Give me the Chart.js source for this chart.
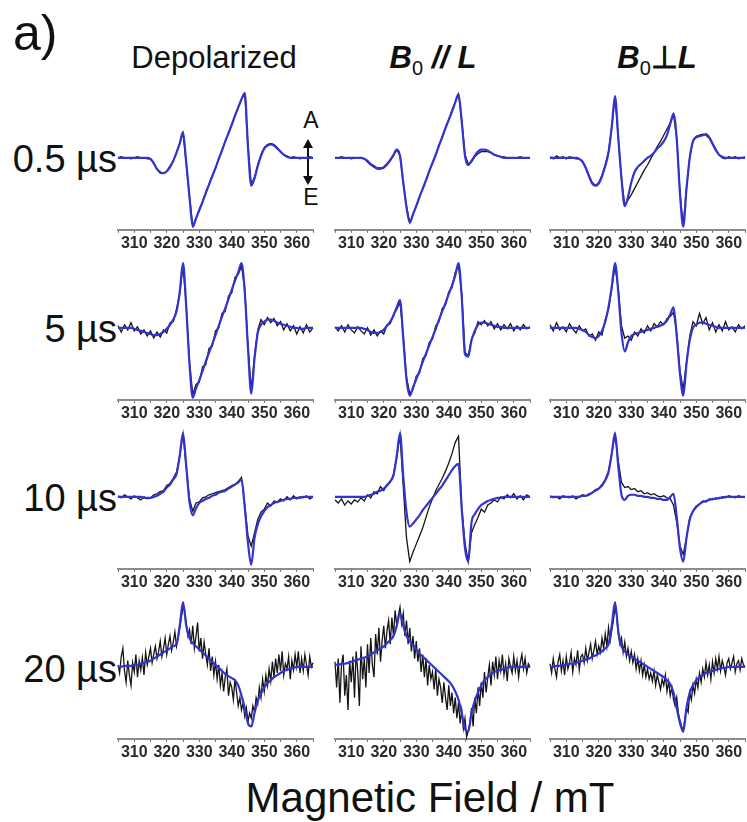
<!DOCTYPE html>
<html>
<head>
<meta charset="utf-8">
<script src="https://cdn.jsdelivr.net/npm/chart.js@4.4.1/dist/chart.umd.min.js"></script>
<style>
body{margin:0;background:#fff;}
#fig{position:relative;width:747px;height:822px;overflow:hidden;font-family:Arial,"Liberation Sans",Helvetica,sans-serif;color:#111;}
.txt{position:absolute;white-space:nowrap;line-height:1;}
.ctr{transform:translateX(-50%);}
canvas{position:absolute;}
</style>
</head>
<body>
<div id="fig">
  <div class="txt" style="left:13px;top:8px;font-size:50px">a)</div>
  <div class="txt ctr" style="left:214px;top:42px;font-size:31px">Depolarized</div>
  <div class="txt ctr" style="left:433px;top:42px;font-size:31px"><b><i>B</i></b><sub style="font-size:20px">0</sub><b><i> // L</i></b></div>
  <div class="txt ctr" style="left:657px;top:42px;font-size:31px"><b><i>B</i></b><sub style="font-size:20px">0</sub><b>&perp;<i>L</i></b></div>

  <div class="txt" style="right:630px;top:140px;font-size:38px">0.5 µs</div>
  <div class="txt" style="right:630px;top:310px;font-size:38px">5 µs</div>
  <div class="txt" style="right:630px;top:479px;font-size:38px">10 µs</div>
  <div class="txt" style="right:630px;top:650px;font-size:38px">20 µs</div>

  <div class="txt ctr" style="left:311px;top:109px;font-size:23px">A</div>
  <div class="txt ctr" style="left:311px;top:186px;font-size:23px">E</div>
  <svg style="position:absolute;left:300px;top:138px" width="16" height="48">
    <line x1="8" y1="8" x2="8" y2="40" stroke="#111" stroke-width="2"/>
    <polygon points="8,1 3,10 13,10" fill="#111"/>
    <polygon points="8,47 3,38 13,38" fill="#111"/>
  </svg>

  <div class="txt ctr" style="left:430px;top:777px;font-size:42px">Magnetic Field / mT</div>
</div>
<script>
// ===== Data (intensity in a.u., field in mT) =====
const field = [305,306,307,308,309,310,311,312,313,314,315,316,317,318,319,320,321,322,323,324,
  325,326,327,328,329,330,331,332,333,334,335,336,337,338,339,340,341,342,343,344,
  345,346,347,348,349,350,351,352,353,354,355,356,357,358,359,360,361,362,363,364,365];
// finer sweep used for the noisy 20 us traces
const fieldFine = [305,305.5,306,306.5,307,307.5,308,308.5,309,309.5,310,310.5,311,311.5,312,312.5,313,313.5,314,314.5,
  315,315.5,316,316.5,317,317.5,318,318.5,319,319.5,320,320.5,321,321.5,322,322.5,323,323.5,324,324.5,
  325,325.5,326,326.5,327,327.5,328,328.5,329,329.5,330,330.5,331,331.5,332,332.5,333,333.5,334,334.5,
  335,335.5,336,336.5,337,337.5,338,338.5,339,339.5,340,340.5,341,341.5,342,342.5,343,343.5,344,344.5,
  345,345.5,346,346.5,347,347.5,348,348.5,349,349.5,350,350.5,351,351.5,352,352.5,353,353.5,354,354.5,
  355,355.5,356,356.5,357,357.5,358,358.5,359,359.5,360,360.5,361,361.5,362,362.5,363,363.5,364,364.5,365];
const tickLabels = [310,320,330,340,350,360];

// 0.5 us
const simDep05 = [0,0,0,0,0,0,0,0,0,0, -1,-5,-11,-14,-15,-13,-9,-3,5,14, 25,-5,-38,-67,-59,-51,-43,-34,-26,-18,
  -10,-1,7,16,24,32,41,49,57,63, 10,-27,-20,-8,2,9,12,13,12,9, 6,3,1,0,0,0,0,0,0,0,0];
const expDep05 = [0,1,0,0,-1,0,1,0,0,-1, -1,-6,-11,-15,-15,-13,-8,-3,5,14, 24,-6,-38,-66,-59,-50,-43,-35,-26,-17,
  -10,-1,8,16,24,33,41,49,57,62, 12,-26,-19,-7,3,10,13,14,13,10, 6,3,2,0,1,0,-1,0,0,1,0];
const simPar05 = [0,0,0,0,0,0,0,0,0,-1, -3,-6,-8,-10,-10,-9,-6,-2,3,8, 2,-24,-48,-63,-55,-47,-38,-30,-22,-13,
  -5,3,12,20,29,37,45,54,62,35, 2,-7,-3,2,6,8,8,7,5,3, 2,1,0,0,0,0,0,0,0,0,0];
const expPar05 = [0,0,1,0,0,-1,0,0,0,-1, -4,-7,-9,-11,-11,-10,-7,-3,2,8, 2,-24,-47,-63,-55,-46,-38,-30,-21,-13,
  -5,3,12,21,29,37,46,54,62,37, 3,-6,-4,1,4,6,6,6,5,3, 2,1,1,0,0,0,0,1,0,0,0];
const simPerp05 = [0,0,0,0,0,0,0,0,0,-1, -4,-10,-18,-25,-27,-25,-18,-8,5,30, 60,20,-20,-47,-38,-24,-14,-9,-6,-3,
  0,2,5,9,12,16,22,33,43,18, -35,-67,-30,0,16,20,21,22,23,20, 14,8,3,1,0,0,0,0,0,0,0];
const expPerp05 = [1,-1,2,0,1,-1,1,0,-1,-1, -3,-9,-17,-24,-27,-24,-17,-7,6,30, 59,19,-21,-46,-41,-36,-30,-24,-18,-12,
  -7,-1,5,11,16,22,28,34,42,19, -34,-66,-29,1,17,21,22,23,22,19, 13,7,3,0,-1,1,0,1,-1,0,1];

// 5 us
const simDep5 = [0,0,0,0,0,-1,-2,-3,-4,-5, -6,-7,-7,-6,-4,-1,3,8,16,35, 63,20,-35,-68,-59,-51,-42,-33,-24,-16,
  -7,2,11,19,28,37,46,54,63,35, -20,-64,-30,-5,3,6,8,8,7,5, 4,3,2,1,0,0,-1,-1,0,0,0];
const expDep5 = [2,-4,3,-2,5,-3,1,-6,-2,-8, -3,-10,-4,-9,-2,-5,5,6,18,33, 60,22,-33,-65,-55,-53,-38,-36,-20,-18,
  -3,0,14,16,31,34,49,52,60,38, -18,-60,-28,-2,8,3,10,5,9,2, 6,-2,4,-3,2,-6,1,-5,3,-4,0];
const simPar5 = [0,0,0,0,0,0,0,0,0,-1, -2,-4,-5,-5,-4,-2,2,6,12,20, 27,-10,-50,-66,-58,-50,-42,-33,-25,-17,
  -9,-1,8,16,24,33,41,51,63,30, -26,-28,-12,-3,3,5,5,4,3,2, 1,1,0,0,0,0,0,0,0,0,0];
const expPar5 = [1,-3,2,-4,3,-2,-5,1,-3,-6, 0,-7,-2,-8,-3,-6,3,4,13,18, 25,-8,-48,-64,-60,-47,-44,-30,-27,-14,
  -11,2,6,19,22,35,39,54,60,33, -24,-27,-11,-5,6,3,7,2,6,-1, 4,-2,3,-1,4,-3,2,-2,3,-1,1];
const simPerp5 = [0,0,0,0,0,0,0,0,0,-1, -2,-4,-7,-9,-10,-8,-3,6,20,40, 63,35,-5,-23,-14,-8,-6,-5,-4,-3,
  -2,-1,0,1,2,4,7,13,20,-8, -45,-66,-35,-12,0,3,5,5,4,3, 2,1,0,0,0,0,0,0,0,0,0];
const expPerp5 = [3,-3,5,-2,1,-4,4,-1,-5,2, -3,-1,-8,-6,-12,-4,-7,8,18,38, 60,38,2,-10,-8,-12,-4,-8,-1,-5,
  2,-3,4,1,6,3,9,11,15,-5, -42,-60,-33,-8,6,2,14,4,10,-2, 5,-4,3,-3,6,-2,1,-4,3,-1,2];

// 10 us
const simDep10 = [0,0,0,0,0,0,0,0,-1,-1, -1,0,1,3,5,9,12,17,22,40, 62,30,-5,-18,-11,-6,-4,-2,-1,1,
  2,4,5,6,8,10,12,14,17,-10, -45,-66,-40,-27,-19,-14,-10,-8,-6,-5, -4,-3,-2,-2,-1,-1,-1,0,0,0,0];
const expDep10 = [1,-1,2,0,-2,1,-1,-3,0,-2, -1,2,3,5,6,11,13,18,24,40, 61,28,-2,-14,-6,-5,-1,0,2,3,
  4,5,6,7,9,11,12,15,19,-8, -38,-48,-35,-22,-15,-12,-6,-9,-4,-5, -2,-4,0,-3,1,-2,0,-1,1,-2,0];
const simPar10 = [0,0,0,0,0,0,0,0,0,0, 1,2,3,5,6,8,11,15,21,40, 62,20,-15,-29,-26,-22,-18,-13,-9,-5,
  -1,3,7,11,16,21,26,30,32,-12, -50,-63,-25,-17,-12,-8,-6,-4,-3,-2, -1,-1,0,0,0,0,0,0,0,0,0];
const expPar10 = [-3,-6,-2,-8,-4,-7,-3,-5,-1,-4, 2,-1,5,3,10,6,12,14,22,38, 60,10,-40,-63,-54,-46,-38,-30,-20,-10,
  -2,6,12,18,25,33,42,53,59,-10, -45,-63,-35,-27,-20,-12,-15,-8,-6,-3, -5,0,-2,2,-1,3,-2,1,-3,2,0];
const simPerp10 = [0,0,0,0,0,0,0,0,0,0, 1,1,2,4,6,8,11,16,24,42, 62,30,2,-3,1,2,2,1,1,0,
  0,-1,-1,-2,-2,-3,-3,0,3,-20, -50,-63,-40,-22,-14,-10,-7,-5,-4,-3, -2,-2,-1,-1,0,0,0,0,0,0,0];
const expPerp10 = [1,-1,0,-2,1,0,-1,1,-2,0, 2,1,3,4,7,8,12,17,25,42, 60,35,14,9,10,7,8,5,6,3,
  4,2,3,1,0,1,-1,-2,-8,-25, -48,-56,-40,-20,-14,-9,-7,-4,-5,-2, -3,-1,-2,0,-1,1,0,-1,1,0,0];

// 20 us (simulations on field, measured traces on fieldFine)
const simDep20 = [0,0,1,1,1,2,2,3,4,5, 6,8,10,12,14,16,18,20,22,40, 63,40,28,23,20,17,14,11,8,5,
  2,-1,-4,-7,-9,-11,-13,-18,-28,-40, -55,-58,-45,-33,-26,-20,-16,-13,-10,-8, -6,-4,-3,-2,-1,0,0,0,0,0,0];
const expDep20 = [2,-6,10,18,-4,-15,6,-8,-18,4, -5,12,-10,6,-3,9,-8,14,2,10,
  18,4,12,20,8,15,25,10,18,28, 12,22,30,16,24,34,20,28,38,48,
  58,55,42,30,36,22,40,18,30,43, 15,28,8,24,12,2,18,-4,10,-8,
  5,-12,2,-18,-6,-24,-10,-2,-28,-15, -20,-32,-12,-25,-38,-30,-42,-35,-48,-40,
  -53,-45,-50,-38,-44,-30,-36,-20,-30,-12, -24,-8,-18,-2,-14,5,-10,8,-6,12,
  -4,15,-8,3,-2,10,-12,6,-3,12, 0,15,-6,8,-4,12,2,-8,10,0,4];
const simPar20 = [2,2,3,3,4,5,6,7,8,9, 10,12,14,16,18,20,23,26,30,40, 52,40,30,25,21,17,13,10,7,4,
  1,-2,-5,-8,-11,-14,-18,-24,-32,-45, -60,-63,-45,-33,-25,-18,-13,-10,-7,-5, -4,-3,-2,-1,0,0,0,0,0,0,0];
const expPar20 = [5,-20,8,-35,2,12,-28,-8,-42,6, -15,10,-30,15,-5,-38,20,-12,8,-20,
  22,-6,28,2,-10,32,12,38,5,25, 40,18,35,45,22,48,30,55,40,50,
  58,42,52,30,45,22,38,15,30,8, 25,5,18,-5,12,-10,8,-18,2,-12,
  -5,-22,-2,-28,-12,-20,-35,-15,-30,-42, -18,-38,-25,-45,-30,-50,-35,-55,-42,-60,
  -50,-68,-62,-55,-40,-58,-30,-45,-20,-38, -15,-30,-5,-25,-10,2,-18,5,-8,10,
  -12,6,-4,12,-8,3,-14,8,0,-6, 10,-4,6,-10,4,12,-2,8,-6,3,0];
const simPerp20 = [0,0,1,1,2,2,3,3,4,5, 6,7,8,10,11,13,15,18,22,40, 63,35,20,15,12,10,8,6,4,2,
  0,-2,-4,-6,-8,-10,-13,-17,-25,-40, -55,-63,-40,-25,-18,-13,-10,-8,-6,-5, -4,-3,-2,-1,-1,0,0,0,0,0,0];
const expPerp20 = [3,-6,8,-2,-10,5,12,-4,6,-8, 10,-2,4,14,-5,8,2,16,-3,10,
  12,4,18,6,14,22,8,16,25,12, 20,14,28,18,32,20,38,25,35,45,
  58,50,32,22,28,14,24,10,18,6, 15,4,12,-2,8,-4,6,-8,2,-10,
  -2,-12,-6,-14,-4,-18,-8,-15,-22,-12, -18,-8,-24,-14,-28,-20,-32,-38,-30,-45,
  -52,-58,-62,-50,-40,-44,-25,-32,-18,-26, -12,-20,-6,-15,-2,-10,4,-8,2,-12,
  5,-6,8,-2,10,-4,6,0,-8,4, 8,-2,4,10,-5,3,6,-3,8,2,0];

// ===== Layout =====
const PLOT_W = 195, PLOT_H = 135;
const colLeft = [118, 335, 550];
const rowAxis = [230, 400, 569, 739];
const BLUE = '#3333cf', BLACK = '#141414';

const panels = [
  [field, expDep05, simDep05], [field, expPar05, simPar05], [field, expPerp05, simPerp05],
  [field, expDep5, simDep5],   [field, expPar5, simPar5],   [field, expPerp5, simPerp5],
  [field, expDep10, simDep10], [field, expPar10, simPar10], [field, expPerp10, simPerp10],
  [fieldFine, expDep20, simDep20], [fieldFine, expPar20, simPar20], [fieldFine, expPerp20, simPerp20]
];

const toXY = (xs, vals) => xs.map((f,i)=>({x:f, y:vals[i]}));
const fig = document.getElementById('fig');

function makePanel(idx, expField, exp, sim){
  const ci = idx % 3, ri = Math.floor(idx / 3);
  const cv = document.createElement('canvas');
  cv.width = PLOT_W + 24; cv.height = PLOT_H + 30;
  fig.appendChild(cv);
  const chart = new Chart(cv, {
    type:'line',
    data:{ datasets:[
      { data:toXY(field, sim), borderColor:BLUE, borderWidth:2.2, pointRadius:0, cubicInterpolationMode:'monotone', order:1, clip:false },
      { data:toXY(expField, exp), borderColor:BLACK, borderWidth:1.3, pointRadius:0, tension:0, order:2, clip:false }
    ]},
    options:{
      responsive:false, animation:false, devicePixelRatio:1,
      layout:{ padding:{ left:12, right:12, top:2, bottom:0 } },
      plugins:{ legend:{ display:false }, tooltip:{ enabled:false } },
      scales:{
        x:{ type:'linear', min:305, max:365,
            ticks:{ stepSize:5, autoSkip:false, maxRotation:0, padding:1, color:'#2a2a2a',
                    font:{ family:'Arial, "Liberation Sans", sans-serif', size:16, weight:'bold' },
                    callback:v => tickLabels.includes(v) ? String(v) : '' },
            grid:{ drawOnChartArea:false, drawTicks:true, tickLength:3, color:'#666' },
            border:{ display:true, color:'#8c8c8c', width:2 } },
        y:{ display:false, min:-70, max:65 }
      }
    }
  });
  const a = chart.chartArea;
  cv.style.left = (colLeft[ci] - a.left) + 'px';
  cv.style.top = (rowAxis[ri] - a.bottom) + 'px';
}

panels.forEach(([xs, exp, sim], i) => makePanel(i, xs, exp, sim));
</script>
</body>
</html>
